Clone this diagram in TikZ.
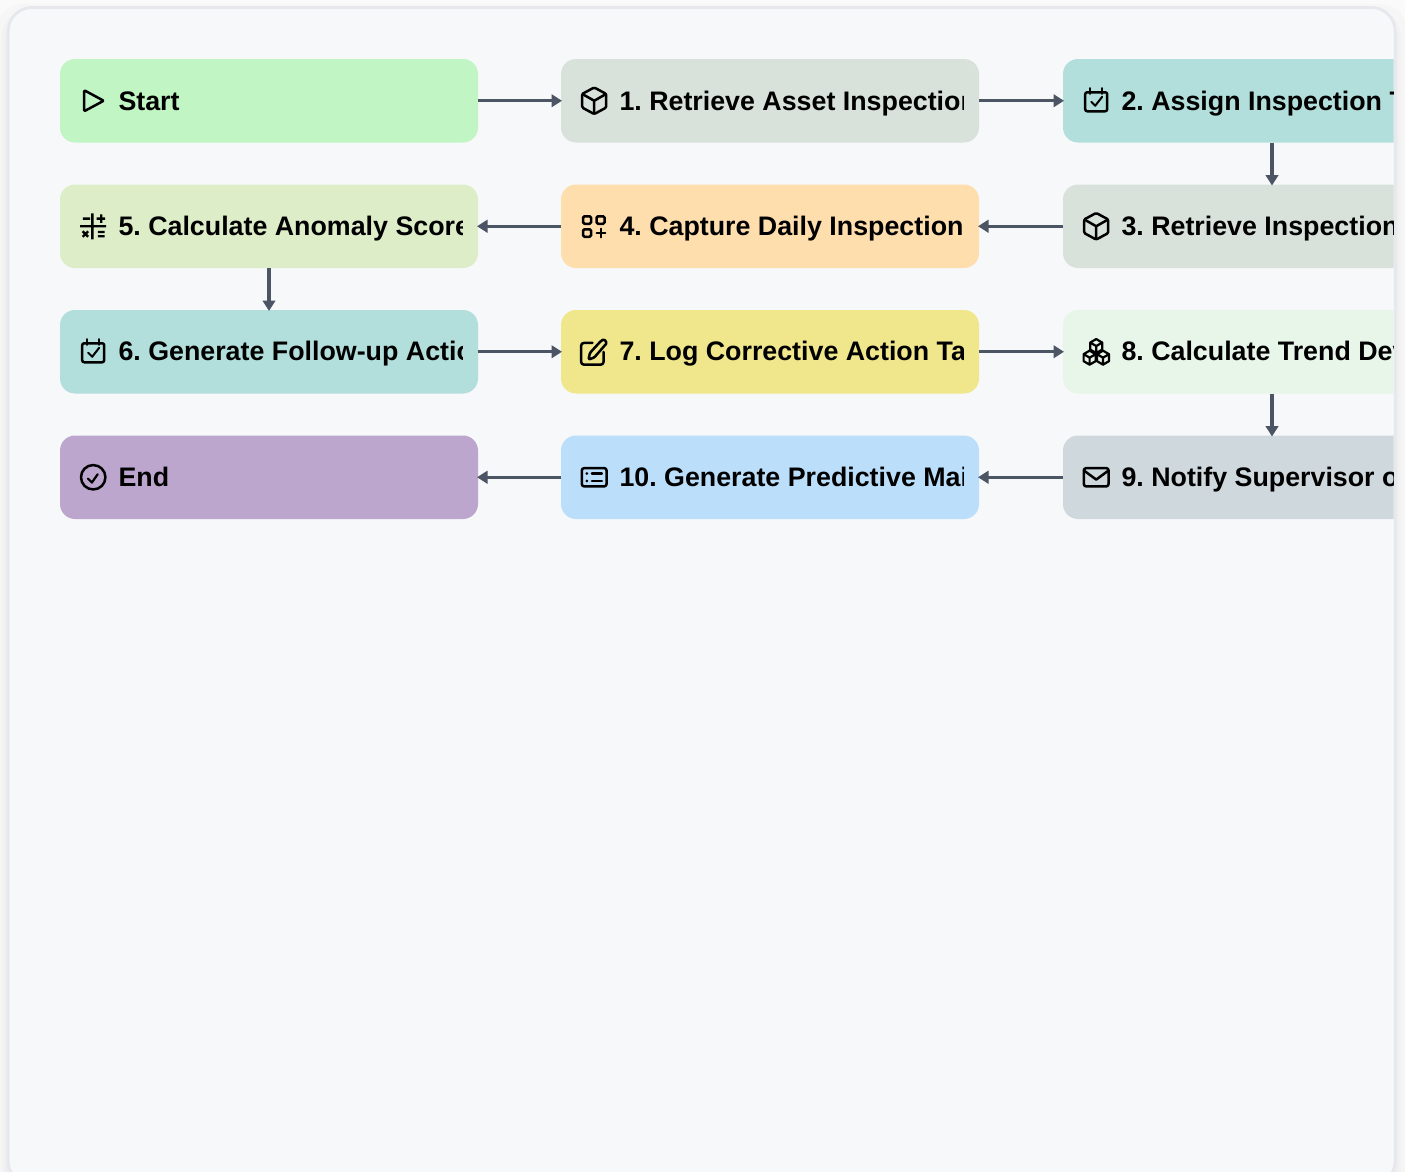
\documentclass[tikz,border=0pt]{standalone}
\usepackage{fontspec}
\setmainfont{Liberation Sans}
\usetikzlibrary{arrows.meta,calc}
\definecolor{panelfill}{HTML}{F7F8FA}
\definecolor{panelline}{HTML}{E7E8EE}
\definecolor{wire}{HTML}{4B5563}
\definecolor{cstart}{HTML}{C1F5C3}
\definecolor{cretr}{HTML}{D8E2DA}
\definecolor{cassign}{HTML}{B2DFDB}
\definecolor{ccalc}{HTML}{DCEDC8}
\definecolor{ccapt}{HTML}{FFDEAD}
\definecolor{clog}{HTML}{F0E68C}
\definecolor{ctrend}{HTML}{E8F5E9}
\definecolor{cnotify}{HTML}{CFD8DC}
\definecolor{cpred}{HTML}{BBDEFB}
\definecolor{cend}{HTML}{BCA6CE}
\tikzset{
  x=1pt,y=-1pt,
  flowbox/.style={rectangle,rounded corners=15pt,minimum width=418pt,minimum height=83.5pt,inner sep=0pt,outer sep=0pt,draw=none,anchor=north west},
  flowtext/.style={anchor=base west,inner sep=0pt,outer sep=0pt,font=\fontsize{26.8pt}{30pt}\selectfont\bfseries\frenchspacing,text=black},
  flowarrow/.style={draw=wire,line width=3.4pt,-{Triangle[length=10.5pt,width=12.5pt]},shorten >=-1pt},
  ico/.style={draw=black,line width=2.5pt,line join=round,line cap=round,fill=none},
  pics/play/.style={code={\draw[ico,rounded corners=1pt] (-9,-10.5)--(10.5,0)--(-9,10.5)--cycle;}},
  pics/cube/.style={code={
    \draw[ico,rounded corners=1.2pt] (0,-13.3)--(12,-6.8)--(12,6.8)--(0,13.3)--(-12,6.8)--(-12,-6.8)--cycle;
    \draw[ico] (-11.6,-6.6)--(0,0)--(11.6,-6.6) (0,0)--(0,13);}},
  pics/cal/.style={code={
    \draw[ico,rounded corners=2pt] (-11,-8.5) rectangle (11,10.5);
    \draw[ico] (-6,-12.5)--(-6,-7) (6,-12.5)--(6,-7);
    \draw[ico,line width=2pt] (-5,1)--(-1,5)--(6,-4);}},
  pics/calcs/.style={code={
    \draw[ico,line width=2.4pt,line cap=butt] (-13,0)--(13,0) (-0.8,-13)--(-0.8,13)
      (-10.3,-7.7)--(-3,-7.7) (3.5,-7.7)--(12,-7.7) (8,-12)--(8,-3.5)
      (4.7,5.7)--(11.3,5.7) (4.7,10)--(11.3,10)
      (-10.5,5)--(-5,10.5) (-5,5)--(-10.5,10.5);}},
  pics/gridplus/.style={code={
    \draw[ico,rounded corners=1.5pt] (-11.2,-10) rectangle (-3,-2.5);
    \draw[ico,rounded corners=1.5pt] (2.3,-10) rectangle (10.5,-2.5);
    \draw[ico,rounded corners=1.5pt] (-11.2,3) rectangle (-3,10.5);
    \draw[ico] (2.5,6.8)--(11,6.8) (6.7,2.5)--(6.7,11);}},
  pics/edit/.style={code={
    \draw[ico,rounded corners=2.5pt] (-1.7,-8.8)--(-13,-8.8)--(-13,12.8)--(9.3,12.8)--(9.3,0.2);
    \draw[ico,rounded corners=1.2pt] (-5.7,7.8)--(-4.3,1.2)--(6.7,-10.8)--(10,-12.5)--(12.7,-8.8)--(0,5.8)--cycle;}},
  pics/listbox/.style={code={
    \draw[ico,rounded corners=2.5pt] (-12.4,-9.2) rectangle (12.4,9.2);
    \draw[ico] (-2.3,-3.7)--(7.7,-3.7) (-2.3,3.7)--(7.7,3.7);
    \fill (-7.3,-3.7) circle (1.5pt) (-7.3,3.7) circle (1.5pt);}},
  pics/mail/.style={code={
    \draw[ico,rounded corners=2.5pt] (-12.4,-9.2) rectangle (12.4,9.2);
    \draw[ico] (-12.4,-6.8)--(0,2.3)--(12.4,-6.8);}},
  pics/hexlet/.style={code={
    \draw[ico,line width=2.2pt] (0,-7)--(6,-3.5)--(6,3.5)--(0,7)--(-6,3.5)--(-6,-3.5)--cycle
      (-6,-3.5)--(0,0)--(6,-3.5) (0,0)--(0,7);}},
  pics/cubes/.style={code={
    \pic at (0,-5.7) {hexlet};
    \pic at (-6.6,5.9) {hexlet};
    \pic at (6.8,5.9) {hexlet};}},
  pics/circcheck/.style={code={
    \draw[ico] (0,0) circle (12.2pt);
    \draw[ico,line width=2.2pt] (-5.3,1.3)--(-1.3,5.3)--(4.5,-3);}},
}
% [#1 baseline offset] #2 name, #3 x, #4 top y, #5 colour, #6 icon, #7 text
\newcommand{\flownode}[7][9.3]{%
  \node[flowbox,fill=#5] (#2) at (#3,#4) {};
  \pic at ($(#2.west)+(33.2,0)$) {#6};
  \begin{scope}
    \clip ($(#2.north west)+(57,0)$) rectangle ($(#2.south east)+(-15.5,0)$);
    \node[flowtext] (#2t) at ($(#2.west)+(58.5,#1)$) {#7};
  \end{scope}}
\begin{document}
\begin{tikzpicture}
\useasboundingbox (0,0) rectangle (1405,1171);
\fill[white] (0,0) rectangle (1405,1171);
\begin{scope}
  \clip (0,0) rectangle (1405,1171);
  \foreach \e/\o in {20/.018,12/.015,6/.015,3/.015}{
    \fill[black,opacity=\o,rounded corners=26pt] (8-\e,7-\e+9) rectangle (1395+\e,1190+\e);}
  \draw[panelline,fill=panelfill,line width=2.8pt,rounded corners=24pt] (8.2,7.4) rectangle (1395.2,1185);
\end{scope}
\begin{scope}
  \clip (0,0) rectangle (1393.5,1171);
  \flownode{s}{60}{59}{cstart}{play}{Start}
  \flownode{a}{561}{59}{cretr}{cube}{1. Retrieve Asset Inspection}
  \flownode{b}{1063}{59}{cassign}{cal}{2. Assign Inspection T}
  \flownode{e}{60}{184.5}{ccalc}{calcs}{5. Calculate Anomaly Score}
  \flownode{d}{561}{184.5}{ccapt}{gridplus}{4. Capture Daily Inspection}
  \flownode{c}{1063}{184.5}{cretr}{cube}{3. Retrieve Inspection}
  \flownode[8.6]{f}{60}{310}{cassign}{cal}{6. Generate Follow-up Action}
  \flownode[8.6]{g}{561}{310}{clog}{edit}{7. Log Corrective Action Ta}
  \flownode[8.6]{h}{1063}{310}{ctrend}{cubes}{8. Calculate Trend Dev}
  \flownode{z}{60}{435.5}{cend}{circcheck}{End}
  \flownode{j}{561}{435.5}{cpred}{listbox}{10. Generate Predictive Mai}
  \flownode{i}{1063}{435.5}{cnotify}{mail}{9. Notify Supervisor o}
\end{scope}
\draw[flowarrow] (s.east) -- (a.west);
\draw[flowarrow] (a.east) -- (b.west);
\draw[flowarrow] (b.south) -- (c.north);
\draw[flowarrow] (c.west) -- (d.east);
\draw[flowarrow] (d.west) -- (e.east);
\draw[flowarrow] (e.south) -- (f.north);
\draw[flowarrow] (f.east) -- (g.west);
\draw[flowarrow] (g.east) -- (h.west);
\draw[flowarrow] (h.south) -- (i.north);
\draw[flowarrow] (i.west) -- (j.east);
\draw[flowarrow] (j.west) -- (z.east);
\end{tikzpicture}
\end{document}
